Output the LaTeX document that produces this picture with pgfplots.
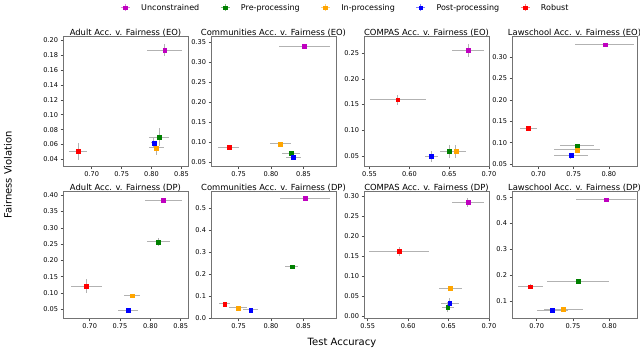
\documentclass[border=0pt]{standalone}
\usepackage{fontspec}
\setmainfont{DejaVu Sans}
\usepackage{pgfplots}
\pgfplotsset{compat=1.18}

\definecolor{cU}{rgb}{0.75,0,0.75}
\definecolor{cP}{rgb}{0,0.5,0}
\definecolor{cI}{rgb}{1,0.647,0}
\definecolor{cPo}{rgb}{0,0,1}
\definecolor{cR}{rgb}{1,0,0}

\pgfplotsset{
  panel/.style={
    scale only axis, width=125pt,
    axis line style={black!55, line width=1pt},
    tick align=outside, tick pos=left,
    major tick length=2.5pt, tick style={black!70, line width=0.5pt},
    ticklabel style={font=\fontsize{6.6}{7}\selectfont},
    /pgf/number format/assume math mode=true,
    /pgf/number format/fixed, /pgf/number format/fixed zerofill,
    /pgf/number format/precision=2,
    title style={font=\fontsize{8.4}{9}\selectfont, yshift=-9pt},
    xticklabel style={yshift=1.5pt}, yticklabel style={xshift=1pt},
    error bars/x dir=both, error bars/x explicit,
    error bars/y dir=both, error bars/y explicit,
    error bars/error mark=none,
    error bars/error bar style={gray!60, line width=0.9pt},
  },
  % series style: colour, marker, and a legend entry with a light error cross
  series/.style={only marks, mark=square*, mark size=1.9pt, color=#1,
    legend image code/.code={
      \draw[#1!50, line width=0.7pt] (0pt,-3.5pt) -- (0pt,3.5pt)
        (-4.5pt,0pt) -- (4.5pt,0pt);
      \fill[#1] (-1.9pt,-1.9pt) rectangle (1.9pt,1.9pt);}},
  pU/.style={series=cU},
  pP/.style={series=cP},
  pI/.style={series=cI},
  pPo/.style={series=cPo},
  pR/.style={series=cR},
}

\begin{document}
\begin{tikzpicture}[x=1pt,y=1pt]
\path[use as bounding box] (0,0) rectangle (640,353);

% ---------- top row: equalized odds ----------
\begin{axis}[panel, height=130pt, at={(63pt,316pt)}, anchor=north west,
  title={Adult Acc. v. Fairness (EO)},
  xmin=0.652, xmax=0.861, ymin=0.030, ymax=0.204,
  xtick={0.70,0.75,0.80,0.85}, ytick={0.04,0.06,...,0.201},
  legend columns=5,
  legend style={at={(2.26,1.225)}, anchor=center, draw=none, fill=none,
    font=\fontsize{8}{9}\selectfont,
    /tikz/every odd column/.append style={column sep=9pt},
    /tikz/every even column/.append style={column sep=19pt}},
  ]
\addplot[pU] coordinates {(0.822,0.1866) +- (0.029,0.008)};
\addplot[pP] coordinates {(0.813,0.070) +- (0.017,0.0125)};
\addplot[pI] coordinates {(0.808,0.0556) +- (0.013,0.0095)};
\addplot[pPo] coordinates {(0.804,0.0623) +- (0.005,0.007)};
\addplot[pR] coordinates {(0.677,0.051) +- (0.015,0.011)};
\legend{Unconstrained,Pre-processing,In-processing,Post-processing,Robust}
\end{axis}

\begin{axis}[panel, height=130pt, at={(211pt,316pt)}, anchor=north west,
  title={Communities Acc. v. Fairness (EO)},
  xmin=0.7075, xmax=0.90, ymin=0.039, ymax=0.364,
  xtick={0.75,0.80,0.85}, ytick={0.05,0.10,...,0.351}]
\addplot[pU] coordinates {(0.851,0.340) +- (0.039,0.004)};
\addplot[pP] coordinates {(0.831,0.0735) +- (0.014,0.005)};
\addplot[pI] coordinates {(0.8146,0.0967) +- (0.016,0.004)};
\addplot[pPo] coordinates {(0.8347,0.0635) +- (0.012,0.004)};
\addplot[pR] coordinates {(0.735,0.089) +- (0.016,0.003)};
\end{axis}

\begin{axis}[panel, height=130pt, at={(364pt,316pt)}, anchor=north west,
  title={COMPAS Acc. v. Fairness (EO)},
  xmin=0.543, xmax=0.700, ymin=0.029, ymax=0.281,
  xtick={0.55,0.60,0.65,0.70}, ytick={0.05,0.10,...,0.251}]
\addplot[pU] coordinates {(0.6736,0.255) +- (0.020,0.013)};
\addplot[pP] coordinates {(0.650,0.0593) +- (0.011,0.012)};
\addplot[pI] coordinates {(0.6584,0.059) +- (0.013,0.012)};
\addplot[pPo] coordinates {(0.6274,0.0494) +- (0.0084,0.0104)};
\addplot[pR] coordinates {(0.5853,0.1595) +- (0.035,0.010)};
\end{axis}

\begin{axis}[panel, height=130pt, at={(512pt,316pt)}, anchor=north west,
  title={Lawschool Acc. v. Fairness (EO)},
  xmin=0.6624, xmax=0.840, ymin=0.043, ymax=0.347,
  xtick={0.70,0.75,0.80}, ytick={0.05,0.10,...,0.301}]
\addplot[pU] coordinates {(0.7943,0.329) +- (0.042,0.003)};
\addplot[pP] coordinates {(0.7548,0.093) +- (0.024,0.004)};
\addplot[pI] coordinates {(0.7548,0.083) +- (0.0326,0.005)};
\addplot[pPo] coordinates {(0.746,0.0697) +- (0.024,0.007)};
\addplot[pR] coordinates {(0.6857,0.1328) +- (0.012,0.004)};
\end{axis}

% ---------- bottom row: demographic parity ----------
\begin{axis}[panel, height=127pt, at={(63pt,161pt)}, anchor=north west,
  title={Adult Acc. v. Fairness (DP)},
  xmin=0.656, xmax=0.862, ymin=0.020, ymax=0.410,
  xtick={0.70,0.75,0.80,0.85}, ytick={0.05,0.10,...,0.401}]
\addplot[pU] coordinates {(0.8217,0.3847) +- (0.030,0.004)};
\addplot[pP] coordinates {(0.8127,0.257) +- (0.019,0.012)};
\addplot[pI] coordinates {(0.7698,0.0917) +- (0.013,0.006)};
\addplot[pPo] coordinates {(0.763,0.046) +- (0.016,0.005)};
\addplot[pR] coordinates {(0.6947,0.1213) +- (0.025,0.022)};
\end{axis}

\begin{axis}[panel, height=127pt, at={(211pt,161pt)}, anchor=north west,
  title={Communities Acc. v. Fairness (DP)},
  xmin=0.7075, xmax=0.90, ymin=-0.005, ymax=0.575,
  xtick={0.75,0.80,0.85}, ytick={0,0.1,...,0.51},
  yticklabel style={/pgf/number format/precision=1}]
\addplot[pU] coordinates {(0.852,0.545) +- (0.038,0.005)};
\addplot[pP] coordinates {(0.832,0.2334) +- (0.010,0.004)};
\addplot[pI] coordinates {(0.749,0.046) +- (0.014,0.004)};
\addplot[pPo] coordinates {(0.7686,0.037) +- (0.0115,0.004)};
\addplot[pR] coordinates {(0.7285,0.064) +- (0.009,0.004)};
\end{axis}

\begin{axis}[panel, height=127pt, at={(364pt,161pt)}, anchor=north west,
  title={COMPAS Acc. v. Fairness (DP)},
  xmin=0.5454, xmax=0.700, ymin=-0.008, ymax=0.310,
  xtick={0.55,0.60,0.65,0.70}, ytick={0,0.05,...,0.301}]
\addplot[pU] coordinates {(0.6738,0.284) +- (0.020,0.012)};
\addplot[pP] coordinates {(0.649,0.0216) +- (0.0075,0.012)};
\addplot[pI] coordinates {(0.6524,0.0686) +- (0.0145,0.007)};
\addplot[pPo] coordinates {(0.6515,0.0314) +- (0.011,0.012)};
\addplot[pR] coordinates {(0.589,0.161) +- (0.037,0.012)};
\end{axis}

\begin{axis}[panel, height=127pt, at={(512pt,161pt)}, anchor=north west,
  title={Lawschool Acc. v. Fairness (DP)},
  xmin=0.666, xmax=0.838, ymin=0.030, ymax=0.522,
  xtick={0.70,0.75,0.80}, ytick={0.1,0.2,...,0.51},
  yticklabel style={/pgf/number format/precision=1}]
\addplot[pU] coordinates {(0.7953,0.492) +- (0.041,0.004)};
\addplot[pP] coordinates {(0.757,0.177) +- (0.043,0.004)};
\addplot[pI] coordinates {(0.7367,0.068) +- (0.027,0.005)};
\addplot[pPo] coordinates {(0.7214,0.064) +- (0.021,0.005)};
\addplot[pR] coordinates {(0.691,0.155) +- (0.017,0.010)};
\end{axis}

\node[rotate=90, font=\fontsize{10}{11}\selectfont] at (8,178) {Fairness Violation};
\node[font=\fontsize{10}{11}\selectfont] at (342,10) {Test Accuracy};
\end{tikzpicture}
\end{document}
